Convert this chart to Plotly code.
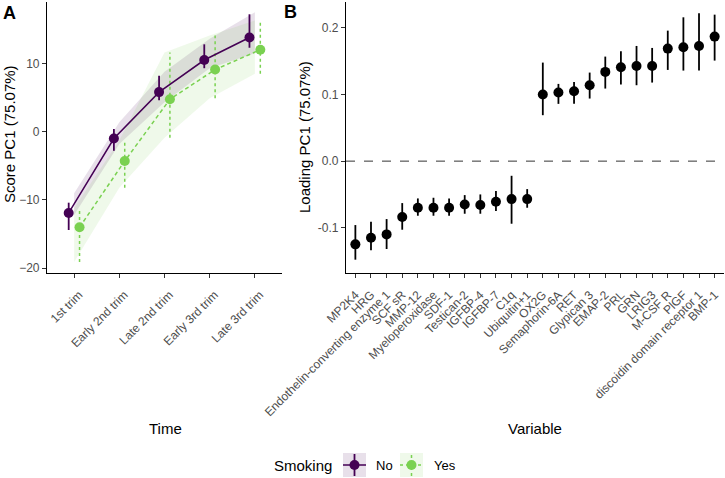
import plotly.graph_objects as go

# ── Data ──────────────────────────────────────────────────────────────────────
TIMES = ["1st trim", "Early 2nd trim", "Late 2nd trim", "Early 3rd trim", "Late 3rd trim"]

NO_MEAN = [-11.9, -1.0, 5.8, 10.5, 13.8]
NO_LO = [-14.4, -2.8, 4.6, 9.3, 12.3]
NO_HI = [-10.4, 0.4, 8.2, 12.8, 17.2]
NO_RIB_LO = [-12.2, -1.8, 4.3, 9.3, 11.5]
NO_RIB_HI = [-9.0, 1.4, 8.8, 13.6, 17.5]

YES_MEAN = [-14.0, -4.3, 4.75, 9.1, 12.0]
YES_LO = [-19.1, -8.2, -0.9, 4.9, 8.5]
YES_HI = [-11.2, -1.3, 11.6, 14.1, 16.3]

VARIABLES = [
    "MP2K4", "HRG", "Endothelin-converting enzyme 1", "SCF sR", "MMP-12",
    "Myeloperoxidase", "SDF-1", "Testican-2", "IGFBP-4", "IGFBP-7", "C1q",
    "Ubiquitin+1", "OX2G", "Semaphorin-6A", "RET", "Glypican 3", "EMAP-2",
    "PRL", "GRN", "LRIG3", "M-CSF R", "PlGF", "discoidin domain receptor 1",
    "BMP-1",
]
LOADING = [
    -0.125, -0.115, -0.110, -0.084, -0.070, -0.070, -0.070, -0.065, -0.066,
    -0.061, -0.057, -0.057, 0.100, 0.103, 0.105, 0.114, 0.134, 0.141, 0.143,
    0.143, 0.169, 0.171, 0.173, 0.187,
]
LOAD_LO = [
    -0.148, -0.134, -0.132, -0.103, -0.082, -0.082, -0.082, -0.079, -0.079,
    -0.075, -0.094, -0.070, 0.069, 0.086, 0.086, 0.094, 0.109, 0.115, 0.114,
    0.118, 0.137, 0.136, 0.136, 0.151,
]
LOAD_HI = [
    -0.096, -0.091, -0.087, -0.063, -0.056, -0.055, -0.056, -0.051, -0.050,
    -0.045, -0.022, -0.042, 0.148, 0.116, 0.119, 0.133, 0.157, 0.165, 0.173,
    0.170, 0.196, 0.216, 0.222, 0.220,
]

PURPLE = "#440154"
GREEN = "#7AD151"
NO_FILL = "rgba(68,1,84,0.12)"
YES_FILL = "rgba(122,209,81,0.12)"
FONT = "Liberation Sans, Arial, sans-serif"
TICK_COL = "#4D4D4D"
DODGE = 0.12
W, H = 725, 478


def seg(xs, lo, hi):
    """Vertical error-bar segments separated by None."""
    sx, sy = [], []
    for x, a, b in zip(xs, lo, hi):
        sx += [x, x, None]
        sy += [a, b, None]
    return sx, sy


def px(x, y):
    return x / W, 1 - y / H


fig = go.Figure()

# ── Panel A ───────────────────────────────────────────────────────────────────
idx = list(range(len(TIMES)))
x_no = [i - DODGE for i in idx]
x_yes = [i + DODGE for i in idx]

fig.add_trace(go.Scatter(
    x=idx + idx[::-1], y=NO_RIB_LO + NO_RIB_HI[::-1],
    fill="toself", fillcolor=NO_FILL, line=dict(width=0),
    mode="lines", showlegend=False, hoverinfo="skip", xaxis="x", yaxis="y",
))
fig.add_trace(go.Scatter(
    x=idx + idx[::-1], y=YES_LO + YES_HI[::-1],
    fill="toself", fillcolor=YES_FILL, line=dict(width=0),
    mode="lines", showlegend=False, hoverinfo="skip", xaxis="x", yaxis="y",
))

ex, ey = seg(x_no, NO_LO, NO_HI)
fig.add_trace(go.Scatter(
    x=ex, y=ey, mode="lines", line=dict(color=PURPLE, width=1.8),
    showlegend=False, hoverinfo="skip", xaxis="x", yaxis="y",
))
ex, ey = seg(x_yes, YES_LO, YES_HI)
fig.add_trace(go.Scatter(
    x=ex, y=ey, mode="lines", line=dict(color=GREEN, width=1.5, dash="3px,3px"),
    showlegend=False, hoverinfo="skip", xaxis="x", yaxis="y",
))

fig.add_trace(go.Scatter(
    x=x_no, y=NO_MEAN, mode="lines+markers", name="No",
    line=dict(color=PURPLE, width=1.5),
    marker=dict(color=PURPLE, size=10),
    showlegend=False, xaxis="x", yaxis="y",
))
fig.add_trace(go.Scatter(
    x=x_yes, y=YES_MEAN, mode="lines+markers", name="Yes",
    line=dict(color=GREEN, width=1.5, dash="4px,3px"),
    marker=dict(color=GREEN, size=10),
    showlegend=False, xaxis="x", yaxis="y",
))

# ── Panel B ───────────────────────────────────────────────────────────────────
vidx = list(range(len(VARIABLES)))
ex, ey = seg(vidx, LOAD_LO, LOAD_HI)
fig.add_trace(go.Scatter(
    x=ex, y=ey, mode="lines", line=dict(color="black", width=1.8),
    showlegend=False, hoverinfo="skip", xaxis="x2", yaxis="y2",
))
fig.add_trace(go.Scatter(
    x=vidx, y=LOADING, mode="markers", marker=dict(color="black", size=10),
    showlegend=False, xaxis="x2", yaxis="y2",
))

axis_common = dict(
    showgrid=False, zeroline=False, showline=True, linecolor="black",
    linewidth=1.2, ticks="outside", ticklen=4, tickcolor="#333333",
    tickfont=dict(family=FONT, size=12, color=TICK_COL), automargin=False,
)

fig.update_layout(
    width=W, height=H,
    paper_bgcolor="white", plot_bgcolor="white",
    margin=dict(l=0, r=0, t=0, b=0),
    font=dict(family=FONT, color="black"),
    showlegend=False,
    xaxis=dict(
        domain=[47 / W, 282 / W], range=[-0.6, 4.6],
        tickvals=idx, ticktext=TIMES, tickangle=-45, anchor="y",
        ticklabelshift=5, ticklabelstandoff=5, **axis_common,
    ),
    yaxis=dict(
        domain=[1 - 273 / H, 1 - 2 / H], range=[-20.7, 19.0],
        tickvals=[-20, -10, 0, 10], anchor="x",
        **axis_common,
    ),
    xaxis2=dict(
        domain=[346 / W, 724 / W], range=[-0.6, 23.6],
        tickvals=vidx, ticktext=VARIABLES, tickangle=-45, anchor="y2",
        ticklabelshift=0, ticklabelstandoff=5, **axis_common,
    ),
    yaxis2=dict(
        domain=[1 - 273 / H, 1 - 2 / H], range=[-0.168, 0.239],
        tickvals=[-0.1, 0.0, 0.1, 0.2], ticktext=["-0.1", "0.0", "0.1", "0.2"],
        anchor="x2",
        **axis_common,
    ),
)

shapes = [
    dict(type="line", xref="x2 domain", yref="y2", x0=0, x1=1, y0=0, y1=0,
         line=dict(color="#333333", width=1, dash="dash")),
]

# ── Legend (drawn by hand, ggplot style keys) ────────────────────────────────
legend_keys = [
    ("No", PURPLE, NO_FILL, "solid", 343, 374),
    ("Yes", GREEN, YES_FILL, "3px,3px", 400, 432),
]
annotations = [
    dict(text="Smoking", x=272 / W, y=1 - 465 / H, xanchor="left",
         font=dict(size=15)),
]
for label, col, fill, dash, x0, tx in legend_keys:
    x1, y0, y1 = x0 + 23, 453, 477
    cx, cy = (x0 + x1) / 2, (y0 + y1) / 2
    a0, b0 = px(x0, y1)
    a1, b1 = px(x1, y0)
    shapes.append(dict(type="rect", xref="paper", yref="paper",
                       x0=a0, x1=a1, y0=b0, y1=b1, fillcolor=fill,
                       line=dict(width=0)))
    shapes.append(dict(type="line", xref="paper", yref="paper",
                       x0=a0, x1=a1, y0=1 - cy / H, y1=1 - cy / H,
                       line=dict(color=col, width=1.5, dash=dash)))
    shapes.append(dict(type="line", xref="paper", yref="paper",
                       x0=cx / W, x1=cx / W, y0=1 - (y1 - 1) / H, y1=1 - (y0 + 1) / H,
                       line=dict(color=col, width=1.8 if dash == "solid" else 1.5,
                                 dash=dash)))
    shapes.append(dict(type="circle", xref="paper", yref="paper",
                       x0=(cx - 5) / W, x1=(cx + 5) / W,
                       y0=1 - (cy + 5) / H, y1=1 - (cy - 5) / H,
                       fillcolor=col, line=dict(width=0)))
    annotations.append(dict(text=label, x=tx / W, y=1 - 465 / H, xanchor="left",
                            font=dict(size=13)))

annotations += [
    dict(text="<b>A</b>", x=9 / W, y=1 - 13 / H, font=dict(size=18)),
    dict(text="<b>B</b>", x=290 / W, y=1 - 12 / H, font=dict(size=18)),
    dict(text="Time", x=165 / W, y=1 - 428 / H, font=dict(size=15)),
    dict(text="Variable", x=535 / W, y=1 - 428 / H, font=dict(size=15)),
    dict(text="Score PC1 (75.07%)", x=9 / W, y=1 - 134 / H,
         textangle=-90, font=dict(size=15)),
    dict(text="Loading PC1 (75.07%)", x=304 / W, y=1 - 137 / H,
         textangle=-90, font=dict(size=15)),
]
for a in annotations:
    a.setdefault("xanchor", "center")
    a.update(xref="paper", yref="paper", showarrow=False, yanchor="middle")
    a["font"].update(family=FONT, color="black")
fig.update_layout(annotations=annotations, shapes=shapes)

fig.write_html(
    "out.html",
    config={"displayModeBar": False},
    post_script="document.body.style.margin='0';document.body.style.overflow='hidden';",
)
